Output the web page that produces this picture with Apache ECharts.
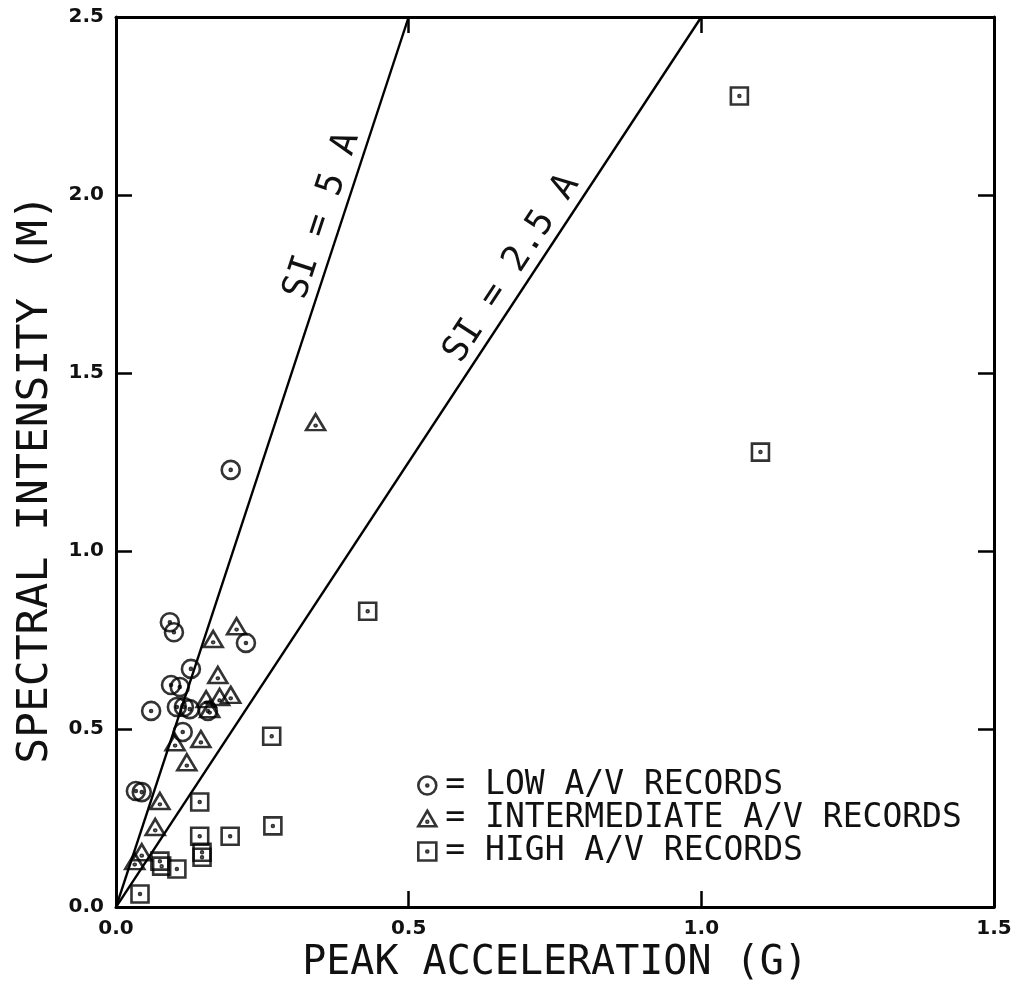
<!DOCTYPE html>
<html>
<head>
<meta charset="utf-8">
<script src="https://cdn.jsdelivr.net/npm/echarts@6/dist/echarts.min.js"></script>
<style>
  html, body { margin: 0; background: #fff; }
  #main { width: 1024px; height: 989px; }
</style>
</head>
<body>
<div id="main"></div>
<script>
// peak acceleration (g), spectral intensity (m)
var lowAV = [
  [0.092, 0.800], [0.099, 0.772], [0.222, 0.742], [0.128, 0.669], [0.094, 0.624],
  [0.109, 0.618], [0.060, 0.551], [0.104, 0.562], [0.116, 0.562], [0.126, 0.556],
  [0.157, 0.551], [0.114, 0.492], [0.034, 0.326], [0.044, 0.323], [0.196, 1.228]
];
var intermediateAV = [
  [0.206, 0.789], [0.166, 0.753], [0.174, 0.652], [0.196, 0.596], [0.177, 0.590],
  [0.154, 0.584], [0.160, 0.556], [0.145, 0.472], [0.101, 0.463], [0.121, 0.407],
  [0.075, 0.298], [0.067, 0.225], [0.044, 0.154], [0.032, 0.129], [0.341, 1.362]
];
var highAV = [
  [0.430, 0.831], [0.266, 0.480], [0.143, 0.295], [0.268, 0.228], [0.195, 0.199],
  [0.143, 0.199], [0.147, 0.154], [0.147, 0.140], [0.075, 0.129], [0.078, 0.115],
  [0.104, 0.107], [0.041, 0.037], [1.065, 2.278], [1.101, 1.278]
];
var lineFiveA = [[0, 0], [0.5, 2.5]];
var lineTwoHalfA = [[0, 0], [1.0, 2.5]];
var seriesNames = ['LOW A/V RECORDS', 'INTERMEDIATE A/V RECORDS', 'HIGH A/V RECORDS'];
var lineLabels = ['SI = 5 A', 'SI = 2.5 A'];

// hollow marks with a dot in the middle
var circlePath = 'path://M0 -10 A10 10 0 1 1 0 10 A10 10 0 1 1 0 -10 Z M0 -1.1 A1.1 1.1 0 1 1 0 1.1 A1.1 1.1 0 1 1 0 -1.1 Z';
var trianglePath = 'path://M0 -10 L11 9 L-11 9 Z M0 2.4 A1.1 1.1 0 1 1 0 4.6 A1.1 1.1 0 1 1 0 2.4 Z';
var squarePath = 'path://M-10 -10 L10 -10 L10 10 L-10 10 Z M0 -1.1 A1.1 1.1 0 1 1 0 1.1 A1.1 1.1 0 1 1 0 -1.1 Z';

var mono = '"DejaVu Sans Mono", monospace';
var markStyle = { color: 'rgba(0,0,0,0)', borderColor: '#000', borderWidth: 2.6 };

function xAx(pos) {
  return {
    type: 'value', position: pos, min: 0, max: 1.5, interval: 0.5,
    name: pos === 'bottom' ? 'PEAK ACCELERATION (G)' : '',
    nameLocation: 'middle', nameGap: 10,
    nameTextStyle: { fontFamily: mono, fontSize: 40, color: '#111', verticalAlign: 'top' },
    axisLine: { show: true, onZero: false, lineStyle: { color: '#000', width: 3 } },
    axisTick: { show: true, inside: true, length: 16, lineStyle: { color: '#000', width: 2.5 } },
    axisLabel: {
      show: pos === 'bottom', margin: 12, color: '#111',
      fontFamily: 'DejaVu Sans', fontWeight: 'bold', fontSize: 20,
      formatter: function (v) { return v.toFixed(1); }
    },
    splitLine: { show: false }
  };
}
function yAx(pos) {
  return {
    type: 'value', position: pos, min: 0, max: 2.5, interval: 0.5,
    name: pos === 'left' ? 'SPECTRAL INTENSITY (M)' : '',
    nameLocation: 'middle', nameGap: 58,
    nameTextStyle: { fontFamily: mono, fontSize: 43, color: '#111', padding: [0, 34, 0, 0] },
    axisLine: { show: true, onZero: false, lineStyle: { color: '#000', width: 3 } },
    axisTick: { show: true, inside: true, length: 16, lineStyle: { color: '#000', width: 2.5 } },
    axisLabel: {
      show: pos === 'left', margin: 12, color: '#111',
      fontFamily: 'DejaVu Sans', fontWeight: 'bold', fontSize: 20,
      formatter: function (v) { return v.toFixed(1); }
    },
    splitLine: { show: false }
  };
}

var chart = echarts.init(document.getElementById('main'));
chart.setOption({
  backgroundColor: '#fff',
  animation: false,
  grid: { left: 116, right: 30, top: 17, bottom: 81 },
  xAxis: [xAx('bottom'), xAx('top')],
  yAxis: [yAx('left'), yAx('right')],
  legend: {
    data: seriesNames,
    orient: 'vertical', left: 412, top: 764,
    itemWidth: 18, itemHeight: 18, itemGap: 0,
    formatter: '= {name}',
    itemStyle: markStyle,
    textStyle: { fontFamily: mono, fontSize: 33, lineHeight: 33, color: '#111', padding: [0, 0, 0, 4] }
  },
  series: [
    {
      type: 'line', data: lineFiveA, symbol: 'none', silent: true,
      lineStyle: { color: '#000', width: 2.4 }, z: 1
    },
    {
      type: 'line', data: lineTwoHalfA, symbol: 'none', silent: true,
      lineStyle: { color: '#000', width: 2.4 }, z: 1
    },
    {
      name: seriesNames[0], type: 'scatter', data: lowAV,
      symbol: circlePath, symbolSize: [18, 18], itemStyle: markStyle, z: 3
    },
    {
      name: seriesNames[1], type: 'scatter', data: intermediateAV,
      symbol: trianglePath, symbolSize: [19, 16], itemStyle: markStyle, z: 3
    },
    {
      name: seriesNames[2], type: 'scatter', data: highAV,
      symbol: squarePath, symbolSize: [17, 17], itemStyle: markStyle, z: 3
    }
  ]
});

// rotated labels along the two reference lines
function lineLabel(line, text, atA, offset) {
  var p0 = chart.convertToPixel({ gridIndex: 0 }, line[0]);
  var p1 = chart.convertToPixel({ gridIndex: 0 }, line[1]);
  var dx = p1[0] - p0[0], dy = p1[1] - p0[1];
  var len = Math.sqrt(dx * dx + dy * dy);
  var ux = dx / len, uy = dy / len;
  var slope = line[1][1] / line[1][0];
  var p = chart.convertToPixel({ gridIndex: 0 }, [atA, atA * slope]);
  return {
    type: 'text',
    x: p[0] + uy * offset,
    y: p[1] - ux * offset,
    rotation: Math.atan2(-dy, dx),
    style: { text: text, font: '36px ' + mono, fill: '#111', align: 'center', verticalAlign: 'middle' },
    z: 5
  };
}
chart.setOption({
  graphic: [
    lineLabel(lineFiveA, lineLabels[0], 0.385, 20),
    lineLabel(lineTwoHalfA, lineLabels[1], 0.705, 20)
  ]
});
</script>
</body>
</html>
